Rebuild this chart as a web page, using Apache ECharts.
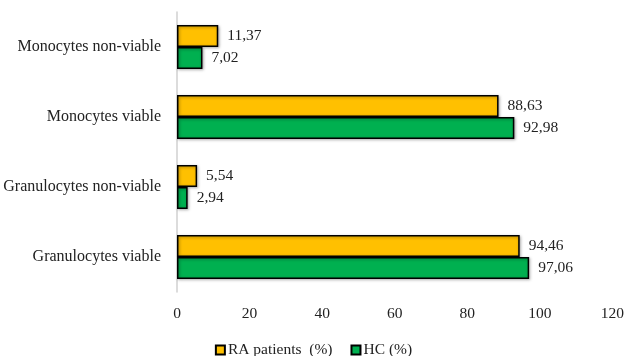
<!DOCTYPE html>
<html>
<head>
<meta charset="utf-8">
<script src="https://cdn.jsdelivr.net/npm/echarts@6/dist/echarts.min.js"></script>
<style>
  html, body { margin: 0; padding: 0; background: #fff; }
  #chart { width: 627px; height: 356px; }
</style>
</head>
<body>
<div id="chart"></div>
<script>
// Cell populations, listed top to bottom
const categories = ['Monocytes non-viable', 'Monocytes viable', 'Granulocytes non-viable', 'Granulocytes viable'];
const raPatients = [11.37, 88.63, 5.54, 94.46];
const healthyControls = [7.02, 92.98, 2.94, 97.06];
const xTicks = [0, 20, 40, 60, 80, 100, 120];

const serif = '"Liberation Serif", "DejaVu Serif", serif';
const fmt = p => String(p.value.toFixed(2)).replace('.', ',');

const chart = echarts.init(document.getElementById('chart'));

const barStyle = color => ({
  color: color,
  borderColor: '#000',
  borderWidth: 1.5,
  shadowColor: 'rgba(0,0,0,0.35)',
  shadowBlur: 3,
  shadowOffsetX: 1,
  shadowOffsetY: 1
});

const labelStyle = {
  show: true,
  position: 'right',
  distance: 9,
  formatter: fmt,
  fontFamily: serif,
  fontSize: 15.5,
  color: '#222'
};

chart.setOption({
  animation: false,
  grid: { left: 177, right: 13, top: 12, bottom: 64, containLabel: false },
  legend: {
    top: 337,
    left: 'center',
    itemWidth: 9,
    itemHeight: 9,
    itemGap: 18,
    icon: 'rect',
    data: ['RA patients  (%)', 'HC (%)'],
    textStyle: { fontFamily: serif, fontSize: 15.5, color: '#222', padding: [0, 0, 0, -2] }
  },
  xAxis: {
    type: 'value',
    min: xTicks[0],
    max: xTicks[xTicks.length - 1],
    interval: 20,
    axisLine: { show: false },
    axisTick: { show: false },
    splitLine: { show: false },
    axisLabel: { fontFamily: serif, fontSize: 15.5, color: '#222', margin: 14 }
  },
  yAxis: {
    type: 'category',
    inverse: true,
    data: categories,
    axisLine: { show: true, lineStyle: { color: '#d0d0d0', width: 1.5 } },
    axisTick: { show: false },
    axisLabel: { fontFamily: serif, fontSize: 16, color: '#222', margin: 16 }
  },
  series: [
    {
      name: 'RA patients  (%)',
      type: 'bar',
      data: raPatients,
      barGap: '0%',
      barCategoryGap: '37%',
      itemStyle: barStyle('#FFC000'),
      label: labelStyle
    },
    {
      name: 'HC (%)',
      type: 'bar',
      data: healthyControls,
      barGap: '0%',
      barCategoryGap: '37%',
      itemStyle: barStyle('#00B050'),
      label: labelStyle
    }
  ]
});
</script>
</body>
</html>
